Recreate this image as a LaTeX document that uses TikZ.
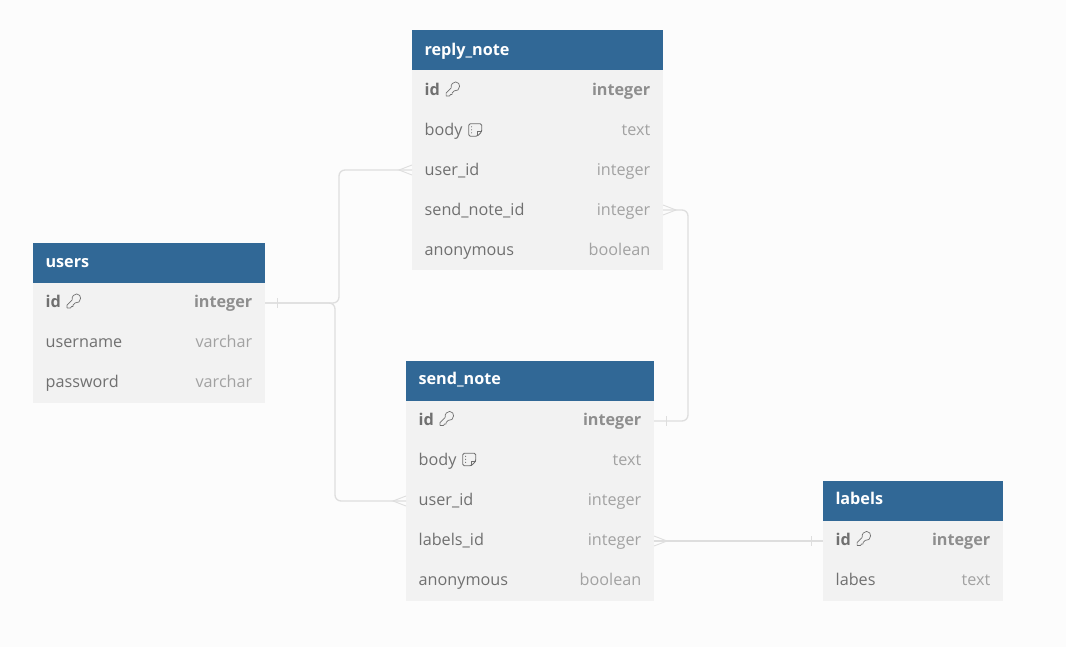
\documentclass[tikz,border=0pt]{standalone}
\usepackage{fontspec}
\setmainfont{Open Sans}
\usepackage{tikz}
\usetikzlibrary{calc}
\definecolor{pagebg}{HTML}{FCFCFC}
\definecolor{headblue}{HTML}{316896}
\definecolor{rowgray}{HTML}{F2F2F2}
\definecolor{namegray}{HTML}{707070}
\definecolor{typegray}{HTML}{A2A2A2}
\definecolor{keygray}{HTML}{8E8E8E}
\definecolor{relgray}{HTML}{DEDEDE}
\tikzset{
  titlebox/.style={anchor=north west,fill=headblue,text=white,font=\fontsize{16.2}{16}\selectfont\bfseries,
    minimum height=40pt,inner xsep=12.5pt,inner ysep=0pt,outer sep=0pt,align=left,text depth=4pt},
  rowbox/.style={anchor=north west,fill=rowgray,minimum height=40pt,inner sep=0pt,outer sep=0pt},
  colname/.style={anchor=base west,inner sep=0pt,text=namegray,font=\fontsize{16.2}{16}\selectfont},
  coltype/.style={anchor=base east,inner sep=0pt,text=typegray,font=\fontsize{16.2}{16}\selectfont},
  keyname/.style={colname,font=\fontsize{16.2}{16}\selectfont\bfseries},
  keytype/.style={coltype,text=keygray,font=\fontsize{16.2}{16}\selectfont\bfseries},
  relline/.style={draw=relgray,line width=1.3pt,rounded corners=6pt},
  relmark/.style={draw=relgray,line width=0.9pt},
  keyicon/.pic={
    \draw[namegray,line width=0.7pt,line join=round] (-1.5,-1) .. controls (-2,-5) and (1,-7) .. (3,-7) .. controls (6,-7) and (7,-4.5) .. (7,-2.5) .. controls (7,0.5) and (4.5,2.5) .. (1.5,2) -- (-0.5,4) -- (-0.5,5.5) -- (-2,5.5) -- (-3,7) -- (-6.5,7) -- (-6.5,4) -- cycle;
  },
  noteicon/.pic={
    \draw[namegray,line width=0.9pt,line join=round,rounded corners=1.5pt] (-6.5,-6) -- (6.5,-6) -- (6.5,2) -- (2,6.5) -- (-6.5,6.5) -- cycle;
    \draw[namegray,line width=0.9pt,line join=round] (6.5,2) -- (2,2) -- (2,6.5);
    \foreach \p in {-3,0,3}
    \fill[namegray] (-3.6,\p) circle (0.6pt);
  },
}
\begin{document}
\begin{tikzpicture}[x=1pt,y=-1pt]
\fill[pagebg] (0,0) rectangle (1066,647);
\useasboundingbox (0,0) rectangle (1066,647);
% reply_note
\node[titlebox,text height=15pt,minimum width=251pt,text width=226pt] (reply) at (412,30) {reply\_note};
\foreach \n/\y in {reply1/70,reply2/110,reply3/150,reply4/190,reply5/230}
\node[rowbox,minimum width=251pt] (\n) at (412,\y) {};
\foreach \n/\a/\b in {reply2/body/text,reply3/user\_id/integer,reply4/send\_note\_id/integer,reply5/anonymous/boolean}{
\node[colname] (\n n) at ($(\n.west)+(12.5,5.5)$) {\a};
\node[coltype] (\n t) at ($(\n.east)+(-12.5,5.5)$) {\b};
}
\node[keyname] (reply1n) at ($(reply1.west)+(12.5,5.5)$) {id};
\node[keytype] (reply1t) at ($(reply1.east)+(-12.5,5.5)$) {integer};
% users
\node[titlebox,text height=14pt,minimum width=232pt,text width=207pt] (users) at (33,243) {users};
\foreach \n/\y in {users1/283,users2/323,users3/363}
\node[rowbox,minimum width=232pt] (\n) at (33,\y) {};
\foreach \n/\a/\b in {users2/username/varchar,users3/password/varchar}{
\node[colname] (\n n) at ($(\n.west)+(12.5,4.5)$) {\a};
\node[coltype] (\n t) at ($(\n.east)+(-12.5,4.5)$) {\b};
}
\node[keyname] (users1n) at ($(users1.west)+(12.5,4.5)$) {id};
\node[keytype] (users1t) at ($(users1.east)+(-12.5,4.5)$) {integer};
% send_note
\node[titlebox,text height=11pt,minimum width=248pt,text width=223pt] (send) at (406,361) {send\_note};
\foreach \n/\y in {send1/401,send2/441,send3/481,send4/521,send5/561}
\node[rowbox,minimum width=248pt] (\n) at (406,\y) {};
\foreach \n/\a/\b in {send2/body/text,send3/user\_id/integer,send4/labels\_id/integer,send5/anonymous/boolean}{
\node[colname] (\n n) at ($(\n.west)+(12.5,4)$) {\a};
\node[coltype] (\n t) at ($(\n.east)+(-12.5,4)$) {\b};
}
\node[keyname] (send1n) at ($(send1.west)+(12.5,4)$) {id};
\node[keytype] (send1t) at ($(send1.east)+(-12.5,4)$) {integer};
% labels
\node[titlebox,text height=11pt,minimum width=180pt,text width=155pt] (labels) at (823,481) {labels};
\foreach \n/\y in {labels1/521,labels2/561}
\node[rowbox,minimum width=180pt] (\n) at (823,\y) {};
\node[colname] (labels2n) at ($(labels2.west)+(12.5,4)$) {labes};
\node[coltype] (labels2t) at ($(labels2.east)+(-12.5,4)$) {text};
\node[keyname] (labels1n) at ($(labels1.west)+(12.5,4)$) {id};
\node[keytype] (labels1t) at ($(labels1.east)+(-12.5,4)$) {integer};
% icons
\foreach \n in {reply1n,users1n,send1n,labels1n}
\pic at ($(\n.east)+(12.5,-0.5)$) {keyicon};
\foreach \n in {reply2n,send2n}
\pic at ($(\n.east)+(12.5,-1.5)$) {noteicon};
% relations
\draw[relline] (users1.east) -- ++(74,0) |- (reply3.west);
\draw[relline] (users1.east) -- ++(70,0) |- (send3.west);
\draw[relline] (reply4.east) -- ++(25,0) |- (send1.east);
\draw[relline] (send4.east) -- (labels1.west);
\foreach \a/\s in {reply3.west/-1,send3.west/-1,reply4.east/1,send4.east/1}{
\draw[relmark] ($(\a)+(0,-5)$) -- ($(\a)+(13*\s,0)$) -- ($(\a)+(0,5)$);
}
\foreach \a/\s in {users1.east/1,send1.east/1,labels1.west/-1}{
\draw[relmark] ($(\a)+(12*\s,-5)$) -- ($(\a)+(12*\s,5)$);
}
\end{tikzpicture}
\end{document}
